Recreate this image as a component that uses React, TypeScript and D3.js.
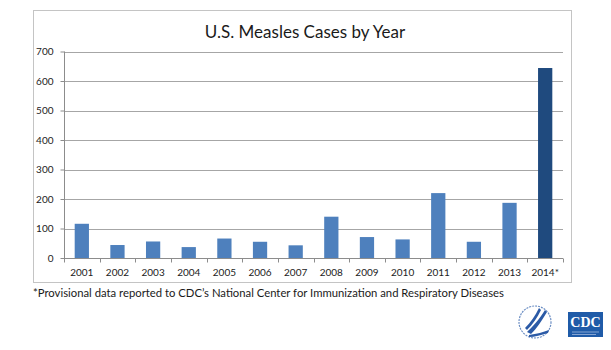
import React, { useEffect, useRef } from "react";
import * as d3 from "d3";

const years = ["2001", "2002", "2003", "2004", "2005", "2006", "2007", "2008", "2009", "2010", "2011", "2012", "2013", "2014*"];
const cases = [116, 44, 56, 37, 66, 55, 43, 140, 71, 63, 220, 55, 187, 644];
const provisional = [false, false, false, false, false, false, false, false, false, false, false, false, false, true];
const yTicks = [0, 100, 200, 300, 400, 500, 600, 700];

const FONT = "Lato, 'Open Sans', sans-serif";

const App = () => {
  const svgRef = useRef<SVGSVGElement>(null);

  useEffect(() => {
    const W = 611, H = 350;
    const plot = { left: 64, right: 563, top: 51.5, bottom: 258 };

    const svg = d3.select(svgRef.current).attr("width", W).attr("height", H);
    svg.selectAll("*").remove();

    svg.append("rect").attr("width", W).attr("height", H).attr("fill", "#fff");

    // chart frame
    svg
      .append("rect")
      .attr("x", 33.5)
      .attr("y", 10.5)
      .attr("width", 538)
      .attr("height", 272)
      .attr("fill", "#fff")
      .attr("stroke", "#c4c4c4");

    svg
      .append("text")
      .attr("x", 305)
      .attr("y", 38)
      .attr("text-anchor", "middle")
      .attr("font-family", FONT)
      .attr("font-size", 17)
      .attr("fill", "#1a1a1a")
      .text("U.S. Measles Cases by Year");

    const x = d3.scaleBand().domain(years).range([plot.left, plot.right]).paddingInner(0.6).paddingOuter(0.3);
    const y = d3.scaleLinear().domain([0, 700]).range([plot.bottom, plot.top]);

    // gridlines
    svg
      .append("g")
      .selectAll("line")
      .data(yTicks.slice(1))
      .join("line")
      .attr("x1", plot.left)
      .attr("x2", plot.right)
      .attr("y1", (d) => Math.round(y(d)) + 0.5)
      .attr("y2", (d) => Math.round(y(d)) + 0.5)
      .attr("stroke", "#a6a6a6");

    // bars
    svg
      .append("g")
      .selectAll("rect")
      .data(cases)
      .join("rect")
      .attr("x", (d, i) => x(years[i])!)
      .attr("width", x.bandwidth())
      .attr("y", (d) => y(d))
      .attr("height", (d) => y(0) - y(d))
      .attr("fill", (d, i) => (provisional[i] ? "#1f4a7e" : "#4e80bd"));

    // y axis
    svg
      .append("g")
      .attr("transform", `translate(${plot.left + 0.5},0)`)
      .call(d3.axisLeft(y).tickValues(yTicks).tickSize(4).tickPadding(7))
      .call((g) => g.select(".domain").attr("stroke", "#8c8c8c").attr("d", `M0,${plot.top}V${plot.bottom}`))
      .call((g) => g.selectAll(".tick line").attr("stroke", "#8c8c8c"))
      .call((g) =>
        g.selectAll("text").attr("fill", "#222").attr("font-family", FONT).attr("font-size", 10)
      );

    // x axis
    const xg = svg.append("g").attr("transform", `translate(0,${Math.round(plot.bottom) + 0.5})`);
    xg.append("line").attr("x1", plot.left).attr("x2", plot.right).attr("stroke", "#8c8c8c");
    const band = (plot.right - plot.left) / years.length;
    xg.selectAll("line.tk")
      .data(d3.range(years.length + 1))
      .join("line")
      .attr("class", "tk")
      .attr("x1", (i) => Math.round(plot.left + i * band) + 0.5)
      .attr("x2", (i) => Math.round(plot.left + i * band) + 0.5)
      .attr("y1", 0)
      .attr("y2", 4)
      .attr("stroke", "#8c8c8c");
    xg.selectAll("text")
      .data(years)
      .join("text")
      .attr("x", (d) => x(d)! + x.bandwidth() / 2)
      .attr("y", 17)
      .attr("text-anchor", "middle")
      .attr("font-family", FONT)
      .attr("font-size", 10)
      .attr("fill", "#222")
      .text((d) => d);

    // footnote
    svg
      .append("text")
      .attr("x", 33)
      .attr("y", 297)
      .attr("font-family", FONT)
      .attr("font-size", 11.3)
      .attr("fill", "#1a1a1a")
      .text("*Provisional data reported to CDC\u2019s National Center for Immunization and Respiratory Diseases");

    // HHS seal
    const seal = svg.append("g").attr("transform", "translate(535,322)");
    seal.append("circle").attr("r", 16).attr("fill", "none").attr("stroke", "#6d8fc4").attr("stroke-width", 1.2).attr("stroke-dasharray", "2,1");
    seal
      .append("path")
      .attr("d", "M-8,10 C-2,4 4,-2 10,-12 L12,-10 C6,0 2,6 -4,12 Z M-10,6 C-4,0 0,-6 4,-14 L6,-12 C2,-4 -2,2 -8,8 Z M-6,13 C2,12 8,10 14,8 L13,11 C6,13 0,15 -6,15 Z")
      .attr("fill", "#2b5aa6");

    // CDC box
    const cdc = svg.append("g").attr("transform", "translate(568,312)");
    cdc.append("rect").attr("width", 35).attr("height", 25).attr("fill", "#1f5ba8");
    cdc
      .append("text")
      .attr("x", 17.5)
      .attr("y", 15)
      .attr("text-anchor", "middle")
      .attr("font-family", "'Liberation Serif', serif")
      .attr("font-weight", "bold")
      .attr("font-size", 14)
      .attr("fill", "#fff")
      .text("CDC");
    cdc.append("line").attr("x1", 4).attr("x2", 31).attr("y1", 20).attr("y2", 20).attr("stroke", "#9fb8dd").attr("stroke-width", 0.8);
    cdc.append("line").attr("x1", 4).attr("x2", 28).attr("y1", 22.5).attr("y2", 22.5).attr("stroke", "#9fb8dd").attr("stroke-width", 0.8);
  }, []);

  return (
    <div style={{ position: "absolute", left: 0, top: 0 }}>
      <svg ref={svgRef}></svg>
    </div>
  );
};

export default App;
